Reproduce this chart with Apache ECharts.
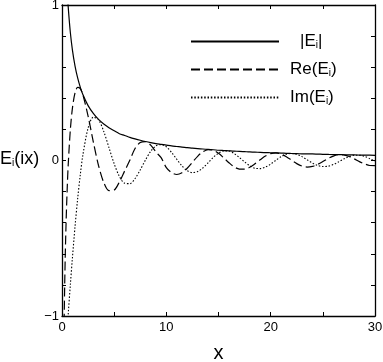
<!DOCTYPE html>
<html lang="en">
<head>
    <meta charset="UTF-8">
    <title>Ei(ix)</title>
    <script type="text/javascript" src="https://cdn.jsdelivr.net/npm/echarts@6/dist/echarts.min.js"></script>
    <style>
        html, body { margin: 0; padding: 0; background: #fff; }
    </style>
</head>
<body>
<div id="main" style="width: 383px;height:362px;"></div>

<script>
    // x positions and curve values
    var xs = [0.2, 0.3, 0.4, 0.5, 0.6, 0.8, 1, 1.25, 1.5, 1.75, 2, 2.5, 3, 3.5, 4, 4.5, 5, 5.5, 6, 6.5, 7, 7.5,
        8, 8.5, 9, 9.5, 10, 10.5, 11, 11.5, 12, 12.5, 13, 13.5, 14, 14.5, 15, 15.5, 16, 16.5, 17, 17.5,
        18, 18.5, 19, 19.5, 20, 20.5, 21, 21.5, 22, 22.5, 23, 23.5, 24, 24.5, 25, 25.5, 26, 26.5, 27, 27.5,
        28, 28.5, 29, 29.5, 30];
    var absE = [1.722, 1.428, 1.234, 1.092, 0.983, 0.823, 0.710, 0.607, 0.531, 0.472, 0.424, 0.353, 0.303, 0.264, 0.235, 0.211, 0.191, 0.172, 0.161, 0.149, 0.139, 0.130,
        0.122, 0.115, 0.109, 0.104, 0.099, 0.094, 0.090, 0.086, 0.083, 0.079, 0.076, 0.074, 0.071, 0.069, 0.066, 0.064, 0.062, 0.060, 0.059, 0.057,
        0.055, 0.054, 0.052, 0.051, 0.050, 0.049, 0.048, 0.046, 0.045, 0.044, 0.043, 0.042, 0.042, 0.041, 0.040, 0.039, 0.038, 0.038, 0.037, 0.036,
        0.036, 0.035, 0.034, 0.034, 0.033];
    var reE = [-1.042, -0.649, -0.379, -0.178, -0.022, 0.199, 0.337, 0.435, 0.470, 0.462, 0.423, 0.286, 0.120, -0.032, -0.141, -0.194, -0.190, -0.138, -0.068, 0.001, 0.077, 0.116,
        0.122, 0.099, 0.055, 0.018, -0.046, -0.078, -0.090, -0.079, -0.050, -0.011, 0.027, 0.056, 0.069, 0.066, 0.046, 0.017, -0.014, -0.041, -0.055, -0.056,
        -0.044, -0.021, 0.005, 0.029, 0.044, 0.049, 0.041, 0.024, 0.002, -0.020, -0.036, -0.042, -0.038, -0.025, -0.007, 0.013, 0.028, 0.037, 0.036, 0.026,
        0.011, -0.007, -0.022, -0.032, -0.033];
    var imE = [-1.371, -1.272, -1.174, -1.078, -0.983, -0.799, -0.625, -0.424, -0.246, -0.093, 0.035, 0.208, 0.278, 0.262, 0.187, 0.083, -0.021, -0.102, -0.146, -0.149, -0.116, -0.060,
        0.003, 0.059, 0.094, 0.102, 0.088, 0.052, 0.008, -0.035, -0.066, -0.078, -0.071, -0.048, -0.015, 0.020, 0.047, 0.062, 0.061, 0.045, 0.019, -0.009,
        -0.034, -0.050, -0.052, -0.042, -0.023, 0.002, 0.024, 0.040, 0.045, 0.040, 0.025, 0.004, -0.016, -0.032, -0.039, -0.037, -0.026, -0.009, 0.010, 0.025,
        0.034, 0.034, 0.027, 0.012, -0.004];
    var seriesNames = ['|Ei|', 'Re(Ei)', 'Im(Ei)'];
    var xLabels = ['0', '10', '20', '30'];
    var yLabels = ['\u22121', '0', '1'];

    function pairs(ys) {
        return xs.map(function (x, i) { return [x, ys[i]]; });
    }

    var font = 'Liberation Sans, Arial, sans-serif';
    var legendText = {
        '|Ei|': '{q|}{a||E}{s|i}{a||}',
        'Re(Ei)': '{p|}{a|Re(E}{s|i}{a|)}',
        'Im(Ei)': '{p|}{a|Im(E}{s|i}{a|)}'
    };

    var tickAxis = {
        axisLine: {show: true, onZero: false, lineStyle: {color: '#000', width: 1.3}},
        axisTick: {show: true, inside: true, length: 4, lineStyle: {color: '#000'}},
        splitLine: {show: false}
    };

    var myChart = echarts.init(document.getElementById('main'));
    myChart.setOption({
        animation: false,
        backgroundColor: '#fff',
        color: ['#000', '#000', '#000'],
        grid: {left: 62, right: 8, top: 5, bottom: 46, outerBoundsMode: 'none', containLabel: false},
        legend: {
            orient: 'vertical',
            left: 185,
            top: 27,
            itemWidth: 88,
            itemHeight: 14,
            itemGap: 10,
            data: seriesNames,
            itemStyle: {opacity: 0},
            formatter: function (n) { return legendText[n]; },
            textStyle: {
                fontFamily: font,
                rich: {
                    a: {fontSize: 17, fontFamily: font, color: '#000'},
                    s: {fontSize: 10, fontFamily: font, color: '#000', verticalAlign: 'bottom', lineHeight: 10, padding: [8, 0, 0, 0]},
                    p: {width: 6},
                    q: {width: 16}
                }
            }
        },
        xAxis: [Object.assign({
            type: 'value', min: 0, max: 30, interval: 5,
            name: 'x', nameLocation: 'middle', nameGap: 27,
            nameTextStyle: {fontFamily: font, fontSize: 20, color: '#000'},
            axisLabel: {
                color: '#000', fontFamily: font, fontSize: 13, margin: 5,
                formatter: function (v) { return v % 10 === 0 ? xLabels[v / 10] : ''; }
            }
        }, tickAxis), Object.assign({
            type: 'value', min: 0, max: 30, interval: 5, position: 'top',
            axisLabel: {show: false}
        }, tickAxis)],
        yAxis: [Object.assign({
            type: 'value', min: -1, max: 1, interval: 0.2,
            axisLabel: {
                color: '#000', fontFamily: font, fontSize: 13, margin: 3,
                formatter: function (v) {
                    var r = Math.round(v * 10) / 10;
                    if (r === -1) return yLabels[0];
                    if (r === 0) return yLabels[1];
                    if (r === 1) return yLabels[2];
                    return '';
                }
            }
        }, tickAxis), Object.assign({
            type: 'value', min: -1, max: 1, interval: 0.2, position: 'right',
            axisLabel: {show: false}
        }, tickAxis)],
        graphic: [{
            type: 'text', left: 0, top: 150,
            style: {
                text: '{e|E}{s|i}{e|(ix)}',
                rich: {
                    e: {fontSize: 18, fontFamily: font, fill: '#000'},
                    s: {fontSize: 10, fontFamily: font, fill: '#000', verticalAlign: 'bottom', lineHeight: 10, padding: [8, 0, 0, 0]}
                }
            }
        }],
        series: [{
            name: seriesNames[0], type: 'line', data: pairs(absE), symbol: 'none', smooth: 0.3,
            itemStyle: {color: '#000'},
            lineStyle: {color: '#000', width: 1.2, type: 'solid'}
        }, {
            name: seriesNames[1], type: 'line', data: pairs(reE), symbol: 'none', smooth: 0.3,
            itemStyle: {color: '#000'},
            lineStyle: {color: '#000', width: 1.2, type: [9, 4]}
        }, {
            name: seriesNames[2], type: 'line', data: pairs(imE), symbol: 'none', smooth: 0.3,
            itemStyle: {color: '#000'},
            lineStyle: {color: '#000', width: 1.1, type: [1.5, 1.8]}
        }]
    });
</script>

</body>
</html>
